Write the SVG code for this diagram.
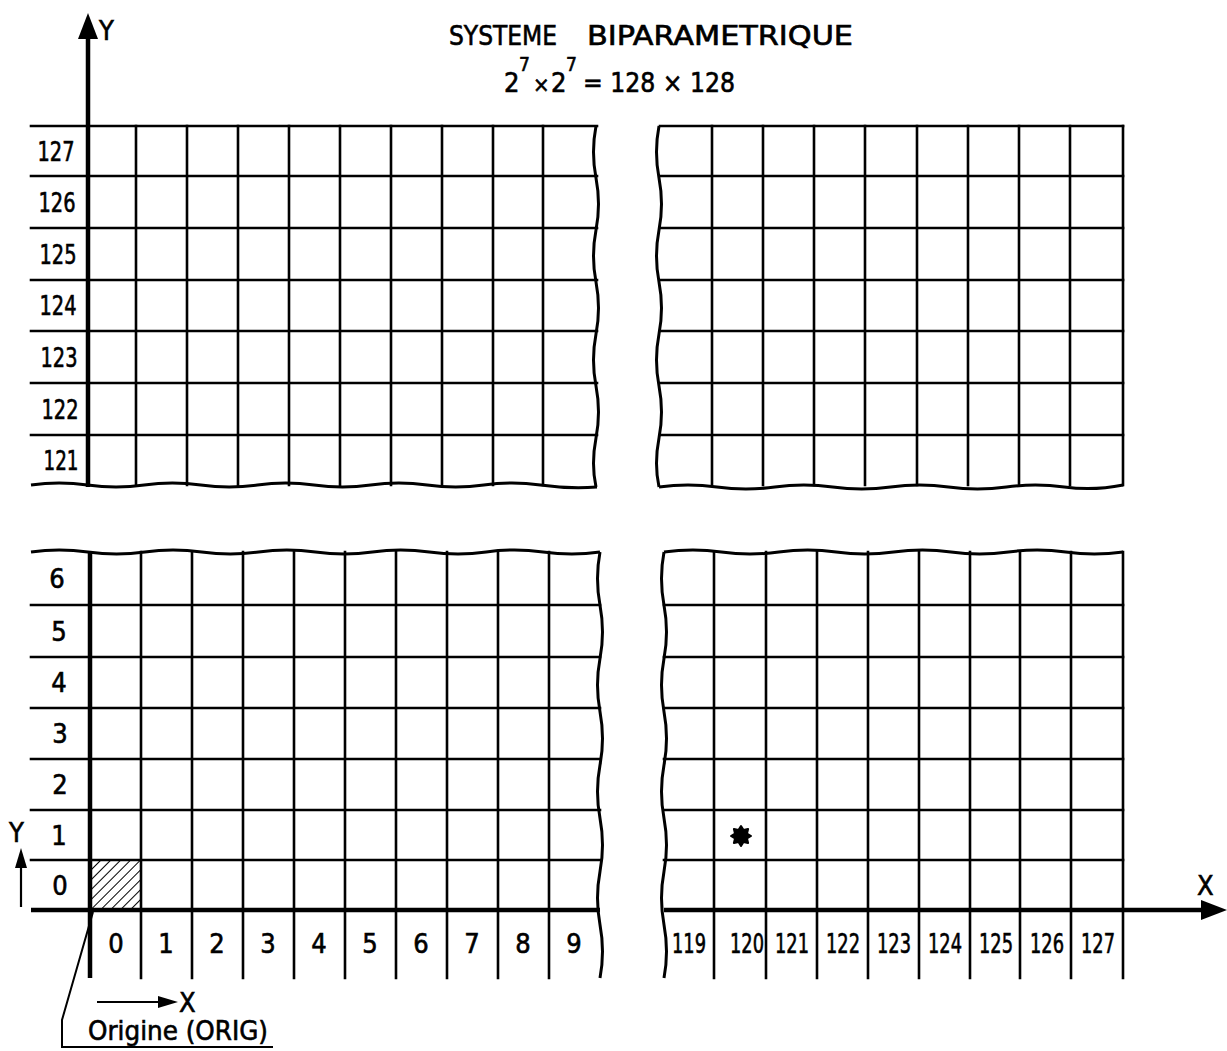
<svg xmlns="http://www.w3.org/2000/svg" width="1227" height="1051" viewBox="0 0 1227 1051">
<style>
.g{stroke:#000;stroke-width:2.6;fill:none;stroke-linecap:square}
.w{stroke:#000;stroke-width:3;fill:none;stroke-linejoin:round}
.ax{stroke:#000;stroke-width:4.5;fill:none}
.t{font-family:"Liberation Sans Narrow","DejaVu Sans Condensed","Liberation Sans",sans-serif;font-size:27px;fill:#000;stroke:#000;stroke-width:0.6;text-anchor:middle}
.tl{font-family:"Liberation Sans Narrow","DejaVu Sans Condensed","Liberation Sans",sans-serif;font-size:27px;fill:#000;stroke:#000;stroke-width:0.6}
</style>
<defs>
<pattern id="hatch" patternUnits="userSpaceOnUse" width="7" height="7" patternTransform="rotate(45)">
<line x1="0" y1="0" x2="0" y2="7" stroke="#000" stroke-width="2"/>
</pattern>
</defs>
<rect width="1227" height="1051" fill="#fff"/>

<g id="title">
<text class="tl" y="45"><tspan x="449" textLength="108" lengthAdjust="spacingAndGlyphs">SYSTEME</tspan> <tspan x="587" textLength="266" lengthAdjust="spacingAndGlyphs">BIPARAMETRIQUE</tspan></text>
<text class="tl" y="92"><tspan x="504">2</tspan><tspan x="519" y="71" font-size="19">7</tspan><tspan x="533" y="92" font-size="22">×</tspan><tspan x="551" y="92">2</tspan><tspan x="566" y="71" font-size="19">7</tspan><tspan x="583" y="92" textLength="152" lengthAdjust="spacingAndGlyphs">= 128 × 128</tspan></text>
</g>

<g id="quadrant-top-left">
<path class="g" d="M31 126H597M31 176H597M31 228H597M31 280H597M31 331H597M31 383H597M31 435H597"/>
<path class="g" d="M136 126V485M187 126V485M238 126V485M289 126V485M340 126V485M391 126V485M442 126V485M493 126V485M543 126V485"/>
<path class="w" d="M596 126q-5 26 0 52t0 52t0 52t0 52t0 52t0 52t0 49"/>
<path class="w" d="M31 485q28 -4 56.6 0t56.6 0t56.6 0t56.6 0t56.6 0t56.6 0t56.6 0t56.6 0t56.6 0t56.6 2"/>
<text class="t" x="56" y="161" textLength="37" lengthAdjust="spacingAndGlyphs">127</text>
<text class="t" x="57" y="212" textLength="37" lengthAdjust="spacingAndGlyphs">126</text>
<text class="t" x="58" y="264" textLength="37" lengthAdjust="spacingAndGlyphs">125</text>
<text class="t" x="58" y="315" textLength="37" lengthAdjust="spacingAndGlyphs">124</text>
<text class="t" x="59" y="367" textLength="37" lengthAdjust="spacingAndGlyphs">123</text>
<text class="t" x="60" y="419" textLength="37" lengthAdjust="spacingAndGlyphs">122</text>
<text class="t" x="61" y="470" textLength="35" lengthAdjust="spacingAndGlyphs">121</text>
</g>

<g id="quadrant-top-right">
<path class="g" d="M660 126H1123M660 176H1123M660 228H1123M660 280H1123M660 331H1123M660 383H1123M660 435H1123"/>
<path class="g" d="M712 126V485M763 126V485M814 126V485M865 126V485M917 126V485M968 126V485M1019 126V485M1070 126V485M1123 126V485"/>
<path class="w" d="M659 126q-5 26 0 52t0 52t0 52t0 52t0 52t0 52t0 49"/>
<path class="w" d="M659 487q29 -4 57.9 0t57.9 0t57.9 0t57.9 0t57.9 0t57.9 0t57.9 0t58.9 -2"/>
</g>

<g id="quadrant-bottom-left">
<path class="g" d="M31 605H600M31 657H600M31 708H600M31 759H600M31 810H600M31 860H600"/>
<rect x="90" y="860" width="51" height="50" fill="url(#hatch)"/>
<path class="g" d="M141 552V978M192 552V978M243 552V978M294 552V978M345 552V978M396 552V978M447 552V978M498 552V978M549 552V978"/>
<path class="w" d="M31 552q28 -4 56.9 0t56.9 0t56.9 0t56.9 0t56.9 0t56.9 0t56.9 0t56.9 0t56.9 0t56.9 0"/>
<path class="w" d="M600 552q-5 26.6 0 53.25t0 53.25t0 53.25t0 53.25t0 53.25t0 53.25t0 53.25t0 53.25"/>
<text class="t" x="57" y="588">6</text>
<text class="t" x="59" y="641">5</text>
<text class="t" x="59" y="692">4</text>
<text class="t" x="60" y="743">3</text>
<text class="t" x="60" y="794">2</text>
<text class="t" x="59" y="845">1</text>
<text class="t" x="60" y="895">0</text>
<text class="t" x="116" y="953">0</text>
<text class="t" x="166" y="953">1</text>
<text class="t" x="217" y="953">2</text>
<text class="t" x="268" y="953">3</text>
<text class="t" x="319" y="953">4</text>
<text class="t" x="370" y="953">5</text>
<text class="t" x="421" y="953">6</text>
<text class="t" x="472" y="953">7</text>
<text class="t" x="523" y="953">8</text>
<text class="t" x="574" y="953">9</text>
</g>

<g id="quadrant-bottom-right">
<path class="g" d="M664 605H1123M664 657H1123M664 708H1123M664 759H1123M664 810H1123M664 860H1123"/>
<path class="g" d="M714 552V978M766 552V978M817 552V978M868 552V978M919 552V978M970 552V978M1020 552V978M1071 552V978M1123 552V978"/>
<path class="w" d="M664 552q29 -4 57.4 0t57.4 0t57.4 0t57.4 0t57.4 0t57.4 0t57.4 0t57.4 0"/>
<path class="w" d="M664 552q-5 26.6 0 53.25t0 53.25t0 53.25t0 53.25t0 53.25t0 53.25t0 53.25t0 53.25"/>
<polygon points="751,836 747,838.5 748.1,843.1 743.5,842 741,846 738.5,842 733.9,843.1 735,838.5 731,836 735,833.5 733.9,828.9 738.5,830 741,826 743.5,830 748.1,828.9 747,833.5" fill="#000" stroke="#000" stroke-width="2" stroke-linejoin="round"/>
<text class="t" x="689" y="953" textLength="34" lengthAdjust="spacingAndGlyphs">119</text>
<text class="t" x="747" y="953" textLength="34" lengthAdjust="spacingAndGlyphs">120</text>
<text class="t" x="792" y="953" textLength="34" lengthAdjust="spacingAndGlyphs">121</text>
<text class="t" x="843" y="953" textLength="34" lengthAdjust="spacingAndGlyphs">122</text>
<text class="t" x="894" y="953" textLength="34" lengthAdjust="spacingAndGlyphs">123</text>
<text class="t" x="945" y="953" textLength="34" lengthAdjust="spacingAndGlyphs">124</text>
<text class="t" x="996" y="953" textLength="34" lengthAdjust="spacingAndGlyphs">125</text>
<text class="t" x="1047" y="953" textLength="34" lengthAdjust="spacingAndGlyphs">126</text>
<text class="t" x="1098" y="953" textLength="34" lengthAdjust="spacingAndGlyphs">127</text>
</g>

<g id="axes">
<path class="ax" d="M88 487V36"/>
<polygon points="88,13 78,39 98,39" fill="#000"/>
<text class="tl" x="99" y="40" font-size="37" stroke-width="1">Y</text>
<path class="ax" d="M90 552V978"/>
<path class="ax" d="M31 910H600M664 910H1203"/>
<polygon points="1227,910 1201,900 1201,920" fill="#000"/>
<text class="tl" x="1197" y="895" font-size="37" stroke-width="1">X</text>
</g>

<g id="origin-legend">
<path stroke="#000" stroke-width="2.2" fill="none" d="M21 907V866"/>
<polygon points="21,848 15,868 27,868" fill="#000"/>
<text class="tl" x="9" y="842" font-size="27">Y</text>
<path stroke="#000" stroke-width="2.2" fill="none" d="M97 1002H160"/>
<polygon points="178,1002 158,996 158,1008" fill="#000"/>
<text class="tl" x="179" y="1012" font-size="27">X</text>
<path stroke="#000" stroke-width="2" fill="none" d="M93 912L62 1020V1047H273"/>
<text class="tl" x="88" y="1040" textLength="180" lengthAdjust="spacingAndGlyphs">Origine (ORIG)</text>
</g>
</svg>
